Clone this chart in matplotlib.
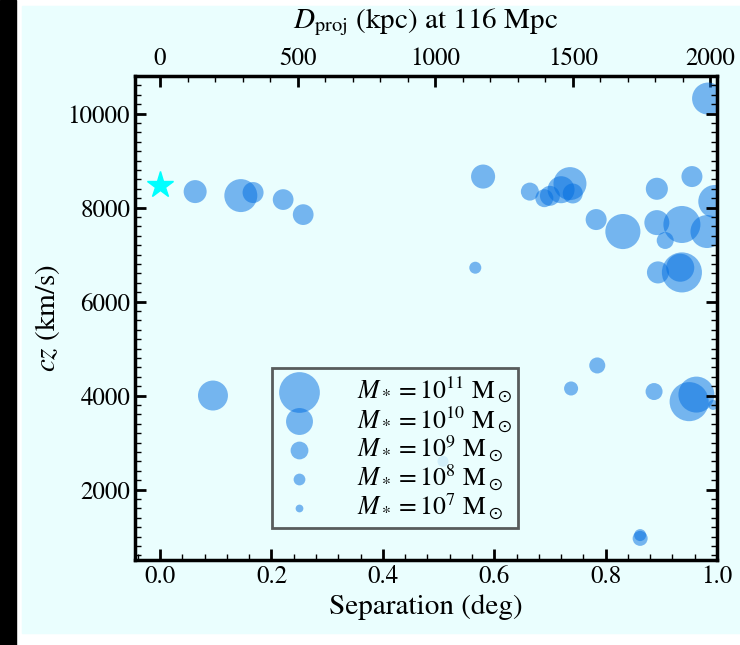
import numpy as np
import matplotlib
matplotlib.use("Agg")
import matplotlib.pyplot as plt
from matplotlib.patches import Rectangle
from matplotlib.ticker import AutoMinorLocator, MultipleLocator, FixedLocator

plt.rcParams['font.family'] = ['STIXGeneral', 'DejaVu Serif']
plt.rcParams['mathtext.fontset'] = 'stix'

# separation (deg), recession velocity (km/s), log stellar mass
sep = [0.063, 0.145, 0.167, 0.221, 0.257, 0.095, 0.508, 0.566, 0.580,
       0.664, 0.690, 0.700, 0.720, 0.736, 0.741, 0.783, 0.831, 0.892,
       0.955, 0.996, 0.892, 0.937, 0.907, 0.982, 0.894, 0.937, 0.934,
       0.984, 0.738, 0.785, 0.887, 0.950, 0.963, 0.993, 0.862, 0.862]
cz = [8340, 8255, 8320, 8170, 7850, 4000, 2600, 6720, 8660,
      8340, 8200, 8250, 8380, 8510, 8300, 7745, 7490, 8400,
      8660, 8130, 7680, 7640, 7300, 7490, 6620, 6620, 6720,
      10320, 4150, 4640, 4085, 3870, 4020, 3800, 960, 1030]
logm = [9.62, 10.49, 9.40, 9.37, 9.37, 10.26, 7.84, 8.05, 9.73,
        9.03, 9.03, 9.28, 10.01, 10.49, 9.28, 9.40, 10.64, 9.52,
        9.40, 10.49, 9.82, 10.77, 8.89, 10.49, 9.52, 10.96, 10.10,
        10.42, 8.43, 8.75, 8.89, 10.90, 10.70, 7.61, 8.59, 8.05]

host_sep = 0.0
host_cz = 8480
legend_logm = [11, 10, 9, 8, 7]
kpc_ticks = [0, 500, 1000, 1500, 2000]

dist_mpc = 116
kpc_per_deg = dist_mpc * 1000 * np.pi / 180


def msize(lm):
    return 860 * 10 ** (0.36 * (np.asarray(lm) - 11))


bg = '#eafefe'
col = '#006de1'

fig = plt.figure(figsize=(7.4, 6.45), dpi=100, facecolor='white')
fig.patches.append(Rectangle((22 / 740, 12 / 645), 1, 627 / 645,
                             transform=fig.transFigure, color=bg, zorder=-10))
fig.patches.append(Rectangle((0, 0), 16 / 740, 1,
                             transform=fig.transFigure, color='black', zorder=-10))

ax = fig.add_axes([135 / 740, 1 - 560 / 645, 582 / 740, 484 / 645])
ax.set_facecolor(bg)

ax.scatter(sep, cz, s=msize(logm), color=col, alpha=0.5, lw=0)
ax.plot(host_sep, host_cz, marker='*', color='cyan', ms=20, ls='none', zorder=5)

ax.set_xlim(-0.045, 1.0)
ax.set_ylim(500, 10800)
ax.set_xlabel('Separation (deg)', fontsize=21)
ax.set_ylabel('$cz$ (km/s)', fontsize=21)

ax.xaxis.set_major_locator(MultipleLocator(0.2))
ax.xaxis.set_minor_locator(AutoMinorLocator(5))
ax.yaxis.set_major_locator(MultipleLocator(2000))
ax.yaxis.set_minor_locator(AutoMinorLocator(10))
ax.tick_params(which='both', direction='in', top=False, right=True, labelsize=18)
ax.tick_params(which='major', length=8, width=2)
ax.tick_params(which='minor', length=4, width=1)
for sp in ax.spines.values():
    sp.set_linewidth(2.5)

sec = ax.secondary_xaxis('top', functions=(lambda x: x * kpc_per_deg,
                                           lambda x: x / kpc_per_deg))
sec.xaxis.set_major_locator(FixedLocator(kpc_ticks))
sec.xaxis.set_minor_locator(FixedLocator(np.arange(-100, 2100, 100)))
sec.tick_params(which='both', direction='in', labelsize=18)
sec.tick_params(which='major', length=8, width=2)
sec.tick_params(which='minor', length=4, width=1)
sec.set_xlabel(r'$D_\mathrm{proj}$ (kpc) at %d Mpc' % dist_mpc, fontsize=21,
               labelpad=14)

handles = [ax.scatter([], [], s=msize(lm), color=col, alpha=0.5, lw=0)
           for lm in legend_logm]
labels = [r'$M_* = 10^{%d}$ M$_\odot$' % lm for lm in legend_logm]
leg = ax.legend(handles, labels, loc='lower left', bbox_to_anchor=(0.235, 0.066),
                borderaxespad=0, fontsize=18.5, fancybox=False, labelspacing=-0.05,
                handlelength=1.6, handletextpad=1.45, borderpad=0.25,
                framealpha=0.8, facecolor=bg, edgecolor='#333333')
leg.get_frame().set_linewidth(2)

fig.savefig('out.png', dpi=100, facecolor=fig.get_facecolor())
